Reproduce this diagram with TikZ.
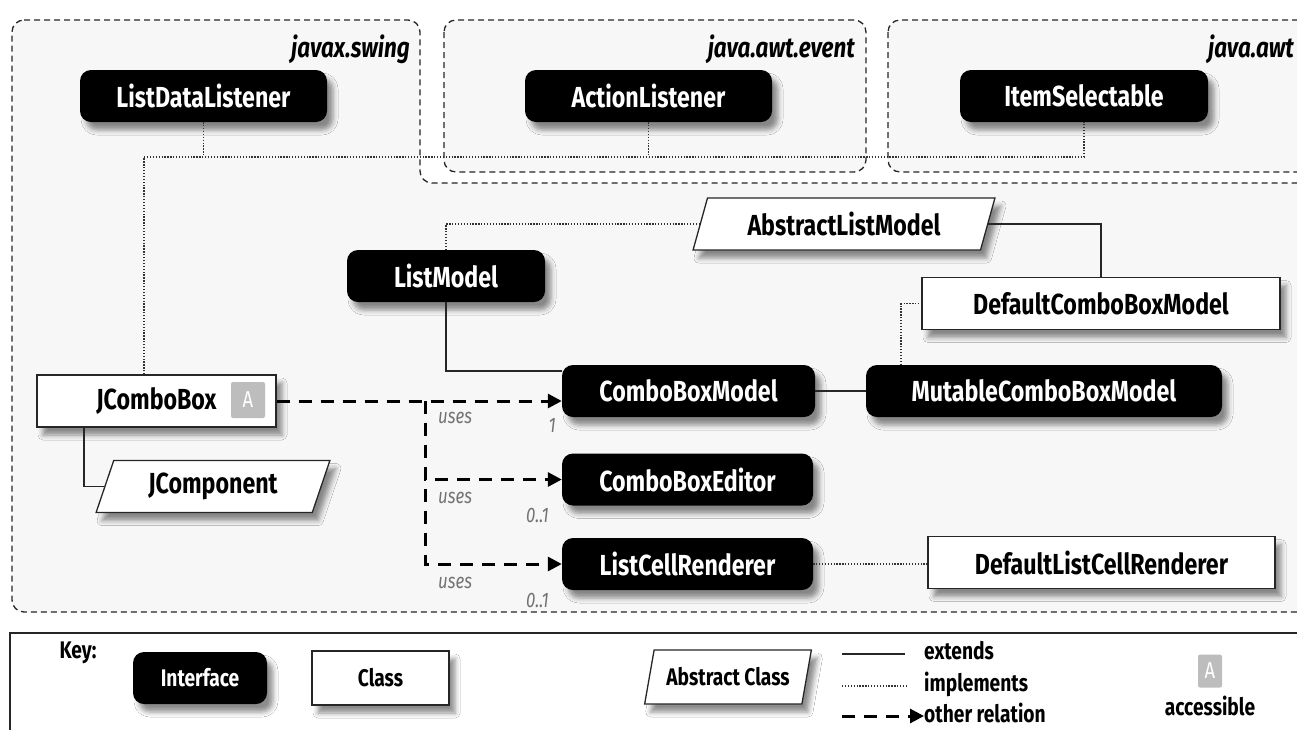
\documentclass[tikz,border=0pt]{standalone}
\usepackage{fontspec}
\setmainfont{Fira Sans}[FakeStretch=0.8]
\usetikzlibrary{shapes.geometric,arrows.meta,shadows.blur}
\definecolor{pane}{HTML}{F7F7F7}
\definecolor{badgegray}{HTML}{BDBDBD}
\tikzset{
  base/.style={font=\bfseries\fontsize{29}{31}\selectfont, inner sep=0pt,
    blur shadow={shadow xshift=6pt, shadow yshift=-8pt, shadow blur radius=5pt, shadow opacity=45}},
  iface/.style={base, fill=black, text=white, rounded corners=11pt, minimum height=52pt},
  cls/.style={base, fill=white, draw=black!85, line width=1.3pt, minimum height=52pt},
  abscls/.style={base, fill=white, draw=black!85, line width=1.3pt, trapezium,
    trapezium left angle=67, trapezium right angle=113, trapezium stretches=true, minimum height=52pt},
  keysize/.style={font=\bfseries\fontsize{24}{26}\selectfont},
  ext/.style={line width=1.2pt, draw=black!85},
  impl/.style={line width=1.2pt, draw=black!80, dash pattern=on 1.3pt off 1.6pt},
  rel/.style={line width=3pt, dash pattern=on 13pt off 9pt, -{Triangle[length=14pt,width=14pt]}},
  pkg/.style={fill=pane, draw=black!85, line width=1.3pt, dash pattern=on 6pt off 4pt, rounded corners=12pt},
  pkglabel/.style={font=\bfseries\itshape\fontsize{28}{30}\selectfont, anchor=base east, inner sep=0pt},
  uses/.style={font=\itshape\fontsize{21}{23}\selectfont, text=black!55, inner sep=0pt},
  badge/.style={fill=badgegray, text=white, rounded corners=2pt, inner sep=0pt,
    font=\fontsize{23}{25}\selectfont},
  keytext/.style={keysize, anchor=west, inner sep=0pt},
}
\begin{document}
\begin{tikzpicture}[x=1pt,y=-1pt]
\useasboundingbox (0,0) rectangle (1297,729);
\clip (0,0) rectangle (1297,729);

% packages
\draw[pkg] (12,20) -- (420,20) -- (420,183) -- (1330,183) -- (1330,612) -- (12,612) -- cycle;
\draw[pkg] (444,20) rectangle (866,172);
\draw[pkg] (888,20) rectangle (1330,172);
\node[pkglabel] (pswing) at (410,57) {javax.swing};
\node[pkglabel] (pevent) at (855,57) {java.awt.event};
\node[pkglabel] (pawt) at (1294,57) {java.awt};

% types
\node[iface, minimum width=247pt] (ldl) at (203.5,96) {ListDataListener};
\node[iface, minimum width=247pt] (al) at (648.5,96) {ActionListener};
\node[iface, minimum width=248pt] (is) at (1084,96) {ItemSelectable};
\node[abscls, minimum width=302pt] (alm) at (844,224) {AbstractListModel};
\node[iface, minimum width=198pt] (lm) at (446,276) {ListModel};
\node[cls, minimum width=358pt] (dcbm) at (1101,303.5) {DefaultComboBoxModel};
\node[iface, minimum width=356pt] (mcbm) at (1044,391) {MutableComboBoxModel};
\node[iface, minimum width=253pt] (cbm) at (688.5,391) {ComboBoxModel};
\node[cls, minimum width=239pt] (jcb) at (156.5,401) {JComboBox};
\node[badge, minimum width=34pt, minimum height=36pt] (jcba) at (248,400) {A};
\node[abscls, minimum width=234pt] (jc) at (213,486.5) {JComponent};
\node[iface, minimum width=251pt] (cbe) at (687.5,479.5) {ComboBoxEditor};
\node[iface, minimum width=251pt] (lcr) at (687.5,564) {ListCellRenderer};
\node[cls, minimum width=347pt] (dlcr) at (1101.5,562.5) {DefaultListCellRenderer};

% implements
\coordinate (bus) at (144,157);
\draw[impl] (jcb.north -| bus) -- (bus) -- (bus -| is.south) -- (is.south);
\draw[impl] (ldl.south) -- (ldl.south |- bus);
\draw[impl] (al.south) -- (al.south |- bus);
\draw[impl] (lm.north) |- (alm.west);
\draw[impl] ([xshift=-143pt]mcbm.north) |- (dcbm.west);
\draw[impl] (lcr.east) -- (lcr.east -| dlcr.west);

% extends
\draw[ext] (alm.east) -| (dcbm.north);
\draw[ext] (lm.south) |- ([yshift=20pt]cbm.west);
\draw[ext] (cbm.east) -- (mcbm.west);
\draw[ext] ([xshift=-72.5pt]jcb.south) |- (jc.west);

% other relations
\coordinate (fork) at (425,401);
\draw[rel] (jcb.east) -- (jcb.east -| cbm.west);
\draw[rel] (fork) |- (cbe.west);
\draw[rel] (fork) |- (lcr.west);
\node[uses, anchor=west] (u1) at (438,418) {uses};
\node[uses, anchor=west] (u2) at (438,498) {uses};
\node[uses, anchor=west] (u3) at (438,583) {uses};
\node[uses, anchor=east] (m1) at (556,425) {1};
\node[uses, anchor=east] (m2) at (549,515) {0..1};
\node[uses, anchor=east] (m3) at (549,600) {0..1};

% key
\draw[line width=1.5pt, draw=black!85, fill=white] (10,633) rectangle (1330,770);
\node[keysize, inner sep=0pt] (keylbl) at (78,653) {Key:};
\node[iface, keysize, minimum width=134pt] (kif) at (200,678) {Interface};
\node[cls, keysize, minimum width=137pt, minimum height=54pt] (kcl) at (380.5,678) {Class};
\node[abscls, keysize, minimum width=167pt, minimum height=54pt] (kab) at (728,677) {Abstract Class};
\node[keytext] (kext) at (924,651) {extends};
\node[keytext] (kimp) at (924,684) {implements};
\node[keytext] (krel) at (924,713) {other relation};
\coordinate (lext) at (842,654);
\coordinate (limp) at (842,686);
\coordinate (lrel) at (842,716);
\draw[ext] (lext) -- ([xshift=-19pt]lext -| kext.west);
\draw[impl] (limp) -- ([xshift=-16pt]limp -| kimp.west);
\draw[rel] (lrel) -- (lrel -| krel.west);
\node[badge, minimum width=24pt, minimum height=33pt] (ka) at (1210,671) {A};
\node[keysize, inner sep=0pt] (kacc) at (1210,706) {accessible};
\end{tikzpicture}
\end{document}
